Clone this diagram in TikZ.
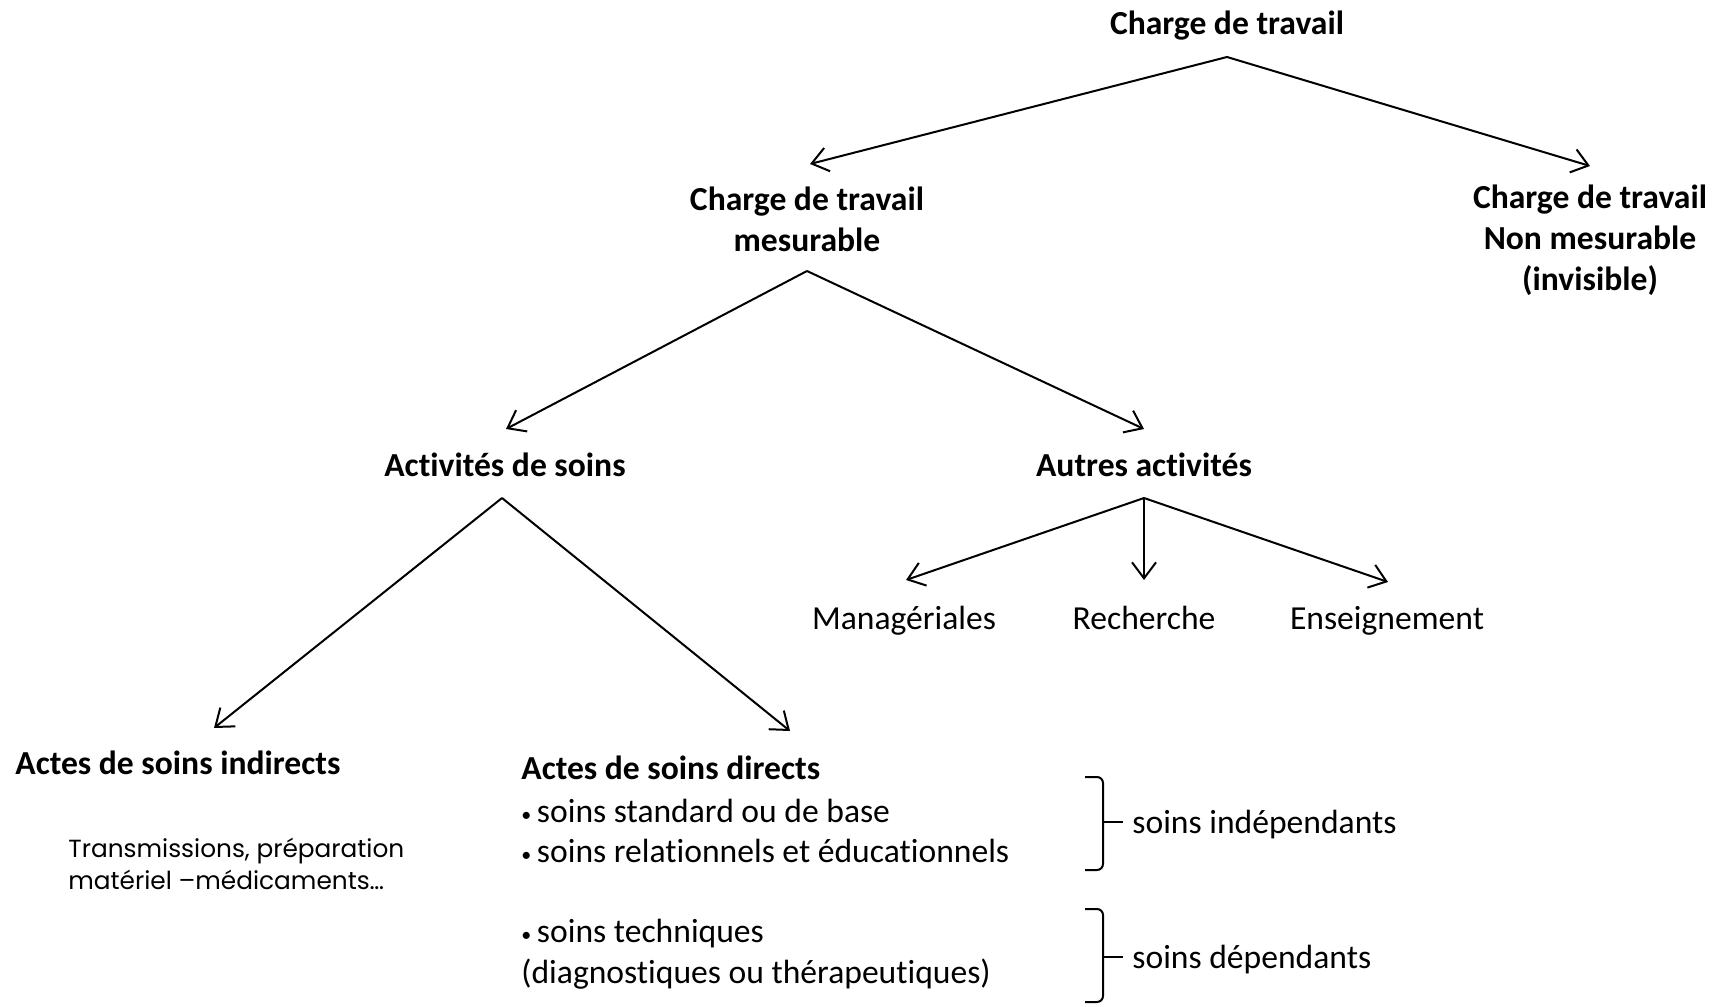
\documentclass[tikz,border=0pt]{standalone}
\usepackage{fontspec}
\setmainfont{Carlito}[Ligatures=NoCommon]
\newfontfamily\gothicfont{Poppins}
\usetikzlibrary{arrows.meta}

\newcommand{\puce}{{\fontsize{10}{10}\selectfont\raisebox{0.15ex}{•}}\,}

\tikzset{
    txt/.style={font=\fontsize{16.8}{20.4}\selectfont, inner sep=0pt, align=center},
    title/.style={txt, font=\fontsize{16.8}{20.4}\selectfont\bfseries},
    arrow/.style={-{Straight Barb[length=8pt,width=12pt]}, line width=1pt},
    brace/.style={line width=1pt, rounded corners=3pt}
}

\begin{document}
\begin{tikzpicture}[x=0.5pt,y=-0.5pt]
    \useasboundingbox (0,0) rectangle (1716,1006);

    % apexes and arrow ends
    \coordinate (T0) at (1227,57);
    \coordinate (T1) at (810,164);
    \coordinate (T2) at (1590,166);
    \coordinate (M0) at (807,271);
    \coordinate (M1) at (506,429);
    \coordinate (M2) at (1144,429);
    \coordinate (S0) at (502,498);
    \coordinate (S1) at (214,728);
    \coordinate (S2) at (790,731);
    \coordinate (A0) at (1144,498);
    \coordinate (A1) at (906,580);
    \coordinate (A2) at (1144,580);
    \coordinate (A3) at (1388,582);

    \node[title] (top) at (1227,26) {Charge de travail};
    \node[title] (mes) at (807,219) {Charge de travail\\mesurable};
    \node[title] (nonmes) at (1590,240) {Charge de travail\\Non mesurable\\(invisible)};
    \node[title] (soins) at (505,465) {Activités de soins};
    \node[title] (autres) at (1144,465) {Autres activités};
    \node[txt] (manag) at (904,621) {Managériales};
    \node[txt] (rech) at (1144,618) {Recherche};
    \node[txt] (ens) at (1387,621) {Enseignement};

    \draw[arrow] (T0) -- (T1);
    \draw[arrow] (T0) -- (T2);
    \draw[arrow] (M0) -- (M1);
    \draw[arrow] (M0) -- (M2);
    \draw[arrow] (S0) -- (S1);
    \draw[arrow] (S0) -- (S2);
    \draw[arrow] (A0) -- (A1);
    \draw[arrow] (A0) -- (A2);
    \draw[arrow] (A0) -- (A3);

    % actes de soins
    \node[title, anchor=west] (indir) at (15,763) {Actes de soins indirects};
    \node[txt, anchor=west, align=left, font=\gothicfont\fontsize{12.4}{16.4}\selectfont]
        (transm) at (68,864) {Transmissions, préparation\\matériel –médicaments…};

    \node[title, anchor=west] (dir) at (521,768) {Actes de soins directs};
    \node[txt, anchor=west] (dir1) at (521,811) {\puce soins standard ou de base};
    \node[txt, anchor=west] (dir2) at (521,851) {\puce soins relationnels et éducationnels};
    \node[txt, anchor=west] (dir3) at (521,934) {\puce soins techniques};
    \node[txt, anchor=west] (dir4) at (521,974) {(diagnostiques ou thérapeutiques)};

    % accolades
    \coordinate (B1) at (1123,822);
    \coordinate (B2) at (1123,957);
    \draw[brace] (1085,777) -- (1103,777) -- (1103,822) -- (1103,870) -- (1085,870);
    \draw[line width=1pt] (1103,822) -- (B1);
    \draw[brace] (1085,909) -- (1103,909) -- (1103,957) -- (1103,1002) -- (1085,1002);
    \draw[line width=1pt] (1103,957) -- (B2);
    \node[txt, anchor=west] (indep) at (1132,825) {soins indépendants};
    \node[txt, anchor=west] (dep) at (1132,960) {soins dépendants};
\end{tikzpicture}
\end{document}
